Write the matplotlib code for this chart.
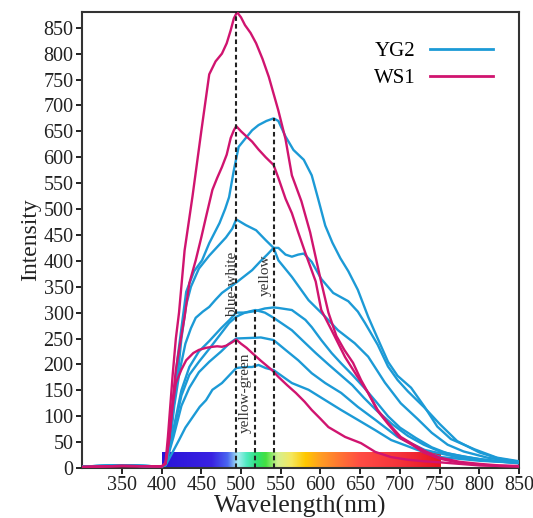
import numpy as np
import matplotlib
matplotlib.use("Agg")
import matplotlib.pyplot as plt
from matplotlib.colors import LinearSegmentedColormap
from matplotlib.lines import Line2D

# ---------------- data ----------------
# WS1 (magenta) spectra
ws1_a_x = [300, 350, 400, 405, 408, 411, 414, 418, 422, 429, 439, 450, 460, 468, 476, 482, 487, 491, 495, 500, 505, 512, 519, 527, 535, 547, 556, 564, 576, 587, 600, 610, 620, 630, 641, 651, 660, 672, 685, 701, 714, 731, 750, 775, 800, 825, 850]
ws1_a_y = [2, 4, 3, 10, 60, 120, 180, 250, 300, 420, 525, 650, 760, 785, 800, 820, 845, 868, 880, 870, 855, 840, 820, 790, 755, 690, 635, 565, 515, 455, 365, 300, 255, 228, 203, 170, 145, 112, 87, 60, 48, 33, 20, 12, 8, 5, 4]

ws1_b_x = [300, 350, 400, 405, 410, 414, 418, 422, 429, 435, 443, 450, 456, 464, 470, 476, 482, 487, 491, 494, 500, 507, 514, 522, 531, 541, 547, 556, 564, 572, 581, 594, 601, 614, 631, 645, 660, 672, 685, 700, 715, 730, 750, 775, 800, 825, 850]
ws1_b_y = [2, 4, 3, 8, 60, 130, 189, 228, 292, 357, 401, 445, 485, 537, 560, 581, 605, 637, 652, 660, 650, 640, 630, 615, 600, 585, 560, 520, 492, 455, 415, 360, 305, 266, 214, 180, 145, 110, 85, 58, 45, 30, 18, 10, 6, 4, 3]

ws1_c_x = [300, 350, 400, 405, 410, 414, 418, 425, 431, 440, 447, 456, 464, 470, 476, 481, 488, 494, 500, 507, 514, 525, 539, 547, 558, 569, 580, 589, 600, 610, 620, 631, 641, 651, 669, 689, 710, 730, 750, 775, 800, 825, 850]
ws1_c_y = [2, 4, 3, 8, 60, 120, 164, 190, 208, 222, 228, 232, 234, 235, 234, 236, 242, 248, 240, 232, 222, 207, 189, 176, 160, 145, 128, 112, 95, 79, 70, 60, 54, 48, 31, 21, 16, 13, 11, 8, 5, 4, 3]

# YG2 (blue) spectra
yg2_a_x = [300, 350, 400, 405, 410, 416, 420, 425, 431, 441, 451, 460, 473, 480, 485, 491, 497, 506, 514, 522, 532, 541, 547, 556, 566, 579, 589, 597, 606, 615, 625, 635, 647, 660, 672, 685, 697, 714, 731, 747, 764, 794, 822, 850]
yg2_a_y = [3, 5, 3, 6, 50, 150, 210, 270, 340, 380, 401, 434, 473, 500, 523, 575, 620, 637, 652, 662, 670, 675, 670, 640, 614, 595, 565, 520, 468, 435, 405, 380, 344, 292, 250, 205, 178, 155, 118, 80, 56, 36, 20, 13]

yg2_b_x = [300, 350, 400, 405, 410, 416, 423, 430, 437, 443, 452, 460, 468, 476, 485, 494, 504, 514, 525, 533, 541, 547, 556, 564, 572, 579, 589, 601, 616, 635, 647, 656, 672, 685, 697, 710, 730, 750, 772, 800, 825, 850]
yg2_b_y = [3, 5, 3, 6, 40, 120, 189, 240, 270, 290, 302, 311, 325, 338, 348, 358, 370, 382, 400, 412, 425, 425, 412, 408, 412, 414, 398, 365, 338, 322, 302, 280, 238, 196, 170, 148, 118, 85, 52, 30, 18, 12]

yg2_c_x = [300, 350, 400, 405, 410, 416, 421, 425, 431, 437, 447, 460, 469, 481, 489, 494, 506, 519, 531, 541, 547, 564, 585, 606, 622, 643, 660, 681, 701, 722, 740, 760, 780, 810, 850]
yg2_c_y = [3, 5, 3, 6, 45, 130, 189, 250, 315, 350, 385, 410, 425, 445, 462, 480, 469, 459, 440, 425, 401, 369, 324, 292, 266, 241, 215, 165, 125, 95, 68, 45, 32, 20, 11]

yg2_d_x = [300, 350, 400, 405, 415, 425, 435, 447, 460, 475, 485, 494, 505, 518, 530, 541, 547, 564, 581, 589, 601, 614, 626, 640, 655, 670, 685, 700, 720, 740, 760, 800, 850]
yg2_d_y = [3, 5, 3, 6, 75, 150, 195, 225, 245, 270, 285, 300, 300, 303, 308, 310, 309, 305, 286, 272, 247, 222, 202, 180, 155, 128, 100, 78, 58, 40, 28, 17, 10]

yg2_e_x = [300, 350, 400, 405, 415, 425, 435, 447, 460, 475, 485, 494, 505, 518, 530, 541, 564, 581, 594, 610, 625, 640, 655, 670, 690, 710, 730, 750, 780, 815, 850]
yg2_e_y = [3, 5, 3, 6, 70, 140, 180, 205, 230, 260, 280, 292, 300, 305, 300, 290, 266, 241, 222, 200, 180, 160, 135, 112, 85, 62, 45, 32, 22, 14, 9]

yg2_f_x = [300, 350, 400, 405, 415, 425, 435, 447, 460, 475, 485, 494, 510, 525, 541, 556, 572, 589, 606, 626, 647, 669, 697, 731, 772, 810, 850]
yg2_f_y = [3, 5, 3, 6, 60, 120, 155, 185, 205, 225, 240, 250, 251, 252, 247, 228, 208, 183, 164, 145, 118, 93, 60, 35, 21, 14, 10]

yg2_g_x = [300, 350, 400, 405, 412, 422, 430, 439, 448, 456, 464, 476, 489, 494, 505, 514, 522, 531, 541, 564, 585, 606, 626, 647, 669, 689, 722, 752, 800, 850]
yg2_g_y = [3, 5, 3, 5, 25, 54, 78, 98, 118, 131, 151, 164, 185, 193, 195, 195, 199, 193, 189, 164, 151, 131, 112, 93, 73, 54, 35, 21, 14, 10]

ws1_series = [(ws1_a_x, ws1_a_y), (ws1_b_x, ws1_b_y), (ws1_c_x, ws1_c_y)]
yg2_series = [(yg2_a_x, yg2_a_y), (yg2_b_x, yg2_b_y), (yg2_c_x, yg2_c_y), (yg2_d_x, yg2_d_y),
              (yg2_e_x, yg2_e_y), (yg2_f_x, yg2_f_y), (yg2_g_x, yg2_g_y)]

# reference lines: wavelength, height, label
ref_x = [494, 518, 541]
ref_top = [880, 305, 675]
ref_labels = ["blue-white", "yellow-green", "yellow"]

x_ticks = [350, 400, 450, 500, 550, 600, 650, 700, 750, 800, 850]
y_ticks = list(range(0, 851, 50))
legend_labels = ["YG2", "WS1"]

# ---------------- style ----------------
BLUE = "#1C9AD6"
MAGENTA = "#D0146F"
SERIF = ["Liberation Serif", "DejaVu Serif"]
plt.rcParams["font.family"] = SERIF

fig = plt.figure(figsize=(5.33, 5.18), dpi=100)
ax = fig.add_axes([0.154, 0.0965, 0.82, 0.88])
ax.set_xlim(300, 850)
ax.set_ylim(0, 880)

# spectrum colour bar
stops = [(400, "#2a14d8"), (462, "#3a22e2"), (482, "#4a66f0"), (495, "#a8eef2"),
         (506, "#4eeac0"), (520, "#2ee070"), (530, "#44e040"), (545, "#d4f090"),
         (562, "#f4e860"), (580, "#ffc800"), (600, "#ff9c24"), (625, "#ff7234"),
         (650, "#ff4c44"), (700, "#f4323a"), (750, "#e81422")]
cmap = LinearSegmentedColormap.from_list(
    "spec", [((w - 400) / 350.0, c) for w, c in stops])
grad = np.linspace(0, 1, 512).reshape(1, -1)
ax.imshow(grad, cmap=cmap, aspect="auto", extent=[400, 750, 0, 30], zorder=1,
          interpolation="bilinear")

for xs, ys in yg2_series:
    ax.plot(xs, ys, color=BLUE, lw=1.7, zorder=3, solid_joinstyle="round")
for xs, ys in ws1_series:
    ax.plot(xs, ys, color=MAGENTA, lw=1.7, zorder=3, solid_joinstyle="round")

for xv, top in zip(ref_x, ref_top):
    ax.plot([xv, xv], [0, top], color="#222222", lw=1.5, ls=(0, (2.2, 1.5)), zorder=4)

ax.text(489, 355, ref_labels[0], rotation=90, ha="center", va="center", fontsize=11, color="#333333", zorder=5)
ax.text(506, 145, ref_labels[1], rotation=90, ha="center", va="center", fontsize=11, color="#333333", zorder=5)
ax.text(530, 372, ref_labels[2], rotation=90, ha="center", va="center", fontsize=11, color="#333333", zorder=5)

ax.set_xticks(x_ticks)
ax.set_yticks(y_ticks)
ax.tick_params(direction="out", length=4, width=1.4, labelsize=14.5, colors="#222222", pad=2)
for s in ax.spines.values():
    s.set_linewidth(1.5)
    s.set_color("#333333")

ax.set_xlabel("Wavelength(nm)", fontsize=18.5, labelpad=0, color="#222222")
ax.set_ylabel("Intensity", fontsize=17, labelpad=2, color="#222222")

handles = [Line2D([0], [0], color=BLUE, lw=2), Line2D([0], [0], color=MAGENTA, lw=2)]
ax.legend(handles, legend_labels, loc="upper right", bbox_to_anchor=(0.94, 0.935),
          frameon=False, markerfirst=False, handlelength=3.0, handletextpad=0.7,
          labelspacing=0.35, fontsize=15, borderpad=0, borderaxespad=0)

fig.savefig("out.png", dpi=100)
